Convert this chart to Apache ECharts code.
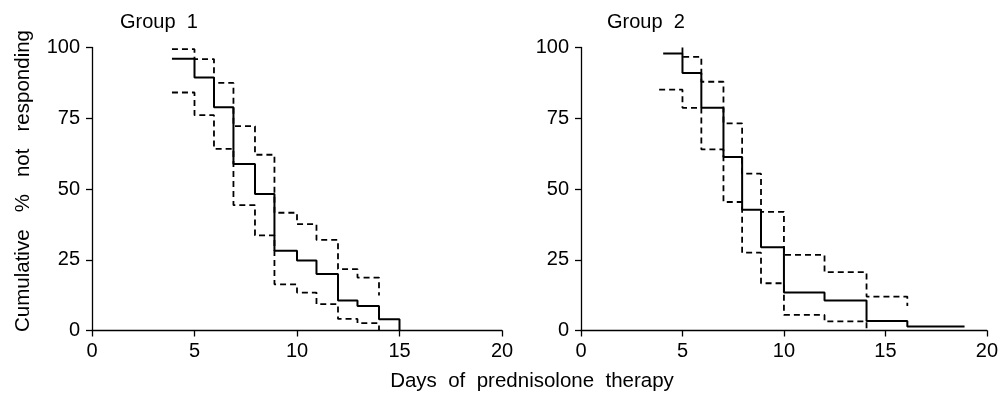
<!DOCTYPE html>
<html>
<head>
<meta charset="utf-8">
<script src="https://cdn.jsdelivr.net/npm/echarts@6/dist/echarts.min.js"></script>
<style>
html,body{margin:0;padding:0;background:#fff;}
#chart{width:1001px;height:394px;}
</style>
</head>
<body>
<div id="chart"></div>
<script>
// ---- Data ----
const panelTitles = ['Group  1', 'Group  2'];
const xTitle = 'Days  of  prednisolone  therapy';
const yTitle = 'Cumulative   %   not   responding';
const xTicks = [0, 5, 10, 15, 20];
const yTicks = [0, 25, 50, 75, 100];

// Group 1
const g1Days      = [3.9, 5, 5.95, 6.9, 7.95, 8.9, 10, 10.95, 12, 12.95, 14, 15];
const g1Estimate  = [96, 89.4, 78.9, 58.8, 48.2, 28.2, 24.7, 20.0, 10.6, 8.7, 4.0, 0];
const g1UpperDays = [3.9, 5, 5.95, 6.9, 7.95, 8.9, 10, 10.95, 12, 12.95, 14];
const g1Upper     = [99.4, 95.9, 87.5, 72.2, 62.1, 41.6, 37.6, 32.0, 21.7, 18.7, 12.4];
const g1LowerDays = [3.9, 5, 5.95, 6.9, 7.95, 8.9, 10, 10.95, 12, 12.95, 14];
const g1Lower     = [84.1, 76.1, 64.2, 44.3, 33.6, 16.3, 13.4, 9.3, 4.1, 2.6, 0];

// Group 2
const g2Days      = [4.05, 5, 5.93, 7.02, 7.94, 8.87, 10, 12, 14.07, 16.08, 18.9];
const g2Estimate  = [97.9, 91.0, 78.7, 61.3, 42.7, 29.4, 13.4, 10.6, 3.4, 1.4, 1.4];
const g2UpperDays = [5, 5, 5.93, 7.02, 7.94, 8.87, 10, 12, 14.07, 16.08];
const g2Upper     = [100, 96.7, 87.9, 73.2, 55.4, 41.9, 26.7, 20.6, 12.0, 8.7];
const g2LowerDays = [3.85, 5, 5.93, 7.02, 7.94, 8.87, 10, 12, 14.07];
const g2Lower     = [85.1, 78.7, 64.0, 45.4, 27.5, 16.7, 5.5, 3.2, 0];

// ---- Build ----
const FONT = '"Liberation Sans", Arial, Helvetica, sans-serif';
const zip = (a, b) => a.map((v, i) => [v, b[i]]);

const chart = echarts.init(document.getElementById('chart'), null, {renderer: 'canvas'});

function xAxisDef(gi) {
  return {
    gridIndex: gi, type: 'value', min: xTicks[0], max: xTicks[xTicks.length - 1],
    interval: xTicks[1] - xTicks[0],
    axisLine: {onZero: false, lineStyle: {color: '#000', width: 1.3}},
    axisTick: {length: 6, lineStyle: {color: '#000', width: 1.3}},
    axisLabel: {color: '#000', fontSize: 20, fontFamily: FONT, margin: 11},
    splitLine: {show: false}
  };
}
function yAxisDef(gi) {
  return {
    gridIndex: gi, type: 'value', min: yTicks[0], max: yTicks[yTicks.length - 1],
    interval: yTicks[1] - yTicks[0],
    axisLine: {show: true, onZero: false, lineStyle: {color: '#000', width: 1.3}},
    axisTick: {show: true, length: 6, lineStyle: {color: '#000', width: 1.3}},
    axisLabel: {color: '#000', fontSize: 20, fontFamily: FONT, margin: 12},
    splitLine: {show: false}
  };
}
function stepSeries(gi, xs, ys, dashed) {
  return {
    type: 'line', xAxisIndex: gi, yAxisIndex: gi, step: 'end',
    data: zip(xs, ys), symbol: 'none', silent: true, animation: false,
    lineStyle: {color: '#000', width: dashed ? 1.8 : 2, type: dashed ? [6, 4] : 'solid', cap: 'butt'}
  };
}

const option = {
  backgroundColor: '#fff',
  animation: false,
  grid: [
    {left: 92, right: 499, top: 47.5, bottom: 63.5},
    {left: 581, right: 12, top: 47.5, bottom: 63.5}
  ],
  xAxis: [xAxisDef(0), xAxisDef(1)],
  yAxis: [yAxisDef(0), yAxisDef(1)],
  series: [
    stepSeries(0, g1Days, g1Estimate, false),
    stepSeries(0, g1UpperDays, g1Upper, true),
    stepSeries(0, g1LowerDays, g1Lower, true),
    stepSeries(1, g2Days, g2Estimate, false),
    stepSeries(1, g2UpperDays, g2Upper, true),
    stepSeries(1, g2LowerDays, g2Lower, true)
  ],
  graphic: [
    {type: 'text', left: 120, top: 12, style: {text: panelTitles[0], font: '20px ' + FONT, fill: '#000'}},
    {type: 'text', left: 607, top: 12, style: {text: panelTitles[1], font: '20px ' + FONT, fill: '#000'}},
    {type: 'text', x: 532, y: 381, style: {text: xTitle, font: '20.5px ' + FONT, fill: '#000', align: 'center', verticalAlign: 'middle'}},
    {type: 'text', x: 23, y: 181, rotation: Math.PI / 2, style: {text: yTitle, font: '20.5px ' + FONT, fill: '#000', align: 'center', verticalAlign: 'middle'}}
  ]
};
chart.setOption(option);
</script>
</body>
</html>
